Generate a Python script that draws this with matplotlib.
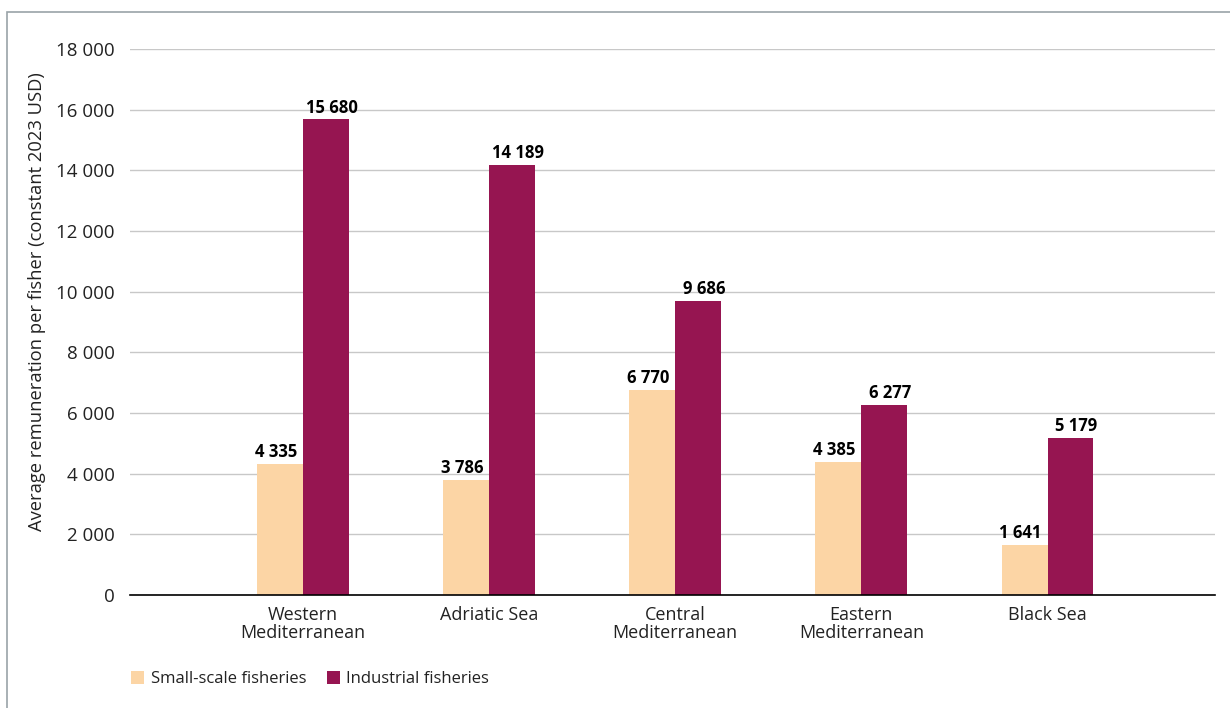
import numpy as np
import matplotlib.pyplot as plt
from matplotlib.patches import Rectangle
from matplotlib.ticker import FuncFormatter
from matplotlib.transforms import offset_copy

plt.rcParams["font.family"] = ["Open Sans", "DejaVu Sans"]

regions = ["Western\nMediterranean", "Adriatic Sea", "Central\nMediterranean",
           "Eastern\nMediterranean", "Black Sea"]
small_scale = [4335, 3786, 6770, 4385, 1641]
industrial = [15680, 14189, 9686, 6277, 5179]
series_names = ["Small-scale fisheries", "Industrial fisheries"]
colors = ["#FCD5A5", "#961551"]


def spaced(v):
    return f"{int(round(v)):,}".replace(",", " ")


fig = plt.figure(figsize=(12.3, 7.08), dpi=100)
ax = fig.add_axes([130 / 1230, 1 - 595 / 708, 1085 / 1230, (595 - 49) / 708])

# outer frame (only top and left visible in the crop)
fig.patches.append(Rectangle((7 / 1230, -0.1), 1.1, 1 - 12 / 708 + 0.1,
                             transform=fig.transFigure, fill=False,
                             edgecolor="#9aa3a8", linewidth=1.2))

x = np.arange(len(regions))
w = 0.247
b1 = ax.bar(x - w / 2, small_scale, w, color=colors[0], label=series_names[0], zorder=3)
b2 = ax.bar(x + w / 2, industrial, w, color=colors[1], label=series_names[1], zorder=3)

# labels sit slightly off-centre in the original
for bars, dx in ((b1, -4), (b2, 6)):
    tr = offset_copy(ax.transData, fig=fig, x=dx * 0.72, y=2, units="points")
    for r in bars:
        ax.text(r.get_x() + r.get_width() / 2, r.get_height(), spaced(r.get_height()),
                ha="center", va="bottom", fontsize=12, fontweight="bold",
                color="black", transform=tr)

ax.set_xlim(-0.93, 4.9)
ax.set_ylim(0, 18000)
ax.set_yticks(np.arange(0, 18001, 2000))
ax.yaxis.set_major_formatter(FuncFormatter(lambda v, p: spaced(v)))
ax.set_xticks(x)
ax.set_xticklabels(regions, fontsize=13, color="#222222", linespacing=1.0)
ax.tick_params(axis="y", length=0, labelsize=13.5, pad=11, labelcolor="#222222")
ax.tick_params(axis="x", length=0, pad=8)
ax.grid(axis="y", color="#c8c8c8", linewidth=1, zorder=0)
for s in ["top", "right", "left"]:
    ax.spines[s].set_visible(False)
ax.spines["bottom"].set_color("black")
ax.spines["bottom"].set_linewidth(1.2)
ax.spines["bottom"].set_zorder(4)

fig.text(37 / 1230, 1 - 302 / 708, "Average remuneration per fisher (constant 2023 USD)",
         rotation=90, ha="center", va="center", fontsize=13.2, color="#222222")

fig.legend(handles=[b1, b2], labels=series_names, loc="center left",
           bbox_to_anchor=(116 / 1230, 1 - 679 / 708), ncol=2, frameon=False,
           fontsize=12, handlelength=0.8, handleheight=0.8, handletextpad=0.4,
           columnspacing=1.2, labelcolor="#222222")

fig.savefig("out.png", dpi=100, facecolor="white")
